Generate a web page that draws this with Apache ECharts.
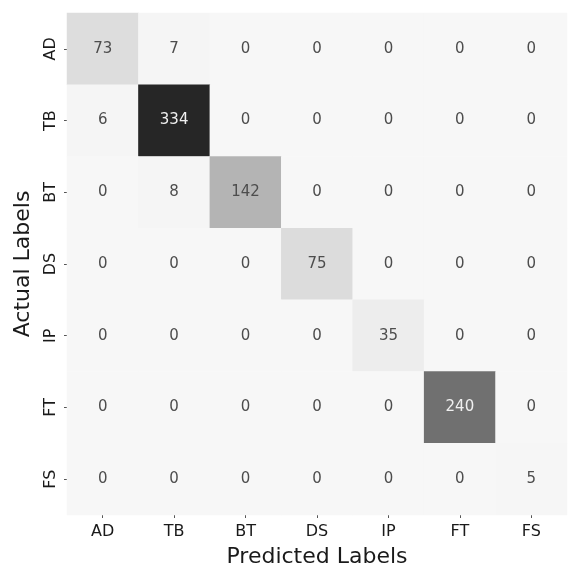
<!DOCTYPE html>
<html>
<head>
<meta charset="utf-8">
<script src="https://cdn.jsdelivr.net/npm/echarts@6/dist/echarts.min.js"></script>
<style>
  html, body { margin: 0; padding: 0; background: #ffffff; }
  #chart { width: 572px; height: 565px; }
</style>
</head>
<body>
<div id="chart"></div>
<script>
// Class names shared by both axes
const classes = ['AD', 'TB', 'BT', 'DS', 'IP', 'FT', 'FS'];

// Confusion matrix rows: actual class; columns: predicted class
const rowAD = [73, 7, 0, 0, 0, 0, 0];
const rowTB = [6, 334, 0, 0, 0, 0, 0];
const rowBT = [0, 8, 142, 0, 0, 0, 0];
const rowDS = [0, 0, 0, 75, 0, 0, 0];
const rowIP = [0, 0, 0, 0, 35, 0, 0];
const rowFT = [0, 0, 0, 0, 0, 240, 0];
const rowFS = [0, 0, 0, 0, 0, 0, 5];

const matrix = [rowAD, rowTB, rowBT, rowDS, rowIP, rowFT, rowFS];

// Greys ramp (light to dark)
const greys = ['#f7f7f7', '#ebebeb', '#d8d8d8', '#c1c1c1', '#a1a1a1',
               '#848484', '#696969', '#444444', '#262626'];

let maxVal = 0;
matrix.forEach(row => row.forEach(v => { maxVal = Math.max(maxVal, v); }));

// Heatmap cells [col, row, value]; light text on dark cells
const cells = [];
matrix.forEach((row, r) => {
  row.forEach((v, c) => {
    const dark = v / maxVal > 0.55;
    cells.push({
      value: [c, r, v],
      label: { color: dark ? '#f0f0f0' : '#4d4d4d' }
    });
  });
});

const chart = echarts.init(document.getElementById('chart'));
chart.setOption({
  animation: false,
  backgroundColor: '#ffffff',
  grid: { left: 67, right: 5, top: 13, bottom: 50, outerBoundsMode: 'none', containLabel: false },
  xAxis: {
    type: 'category',
    data: classes,
    name: 'Predicted Labels',
    nameLocation: 'middle',
    nameGap: 31,
    nameTextStyle: { fontFamily: 'DejaVu Sans', fontSize: 22, color: '#1a1a1a' },
    axisLine: { show: false },
    axisTick: { show: true, alignWithLabel: true, length: 3, lineStyle: { color: '#555' } },
    axisLabel: { fontFamily: 'DejaVu Sans', fontSize: 16, color: '#1a1a1a', margin: 9 },
    splitLine: { show: false }
  },
  yAxis: {
    type: 'category',
    data: classes,
    inverse: true,
    name: 'Actual Labels',
    nameLocation: 'middle',
    nameGap: 33,
    nameRotate: 90,
    nameTextStyle: { fontFamily: 'DejaVu Sans', fontSize: 22, color: '#1a1a1a' },
    axisLine: { show: false },
    axisTick: { show: true, alignWithLabel: true, length: 3, lineStyle: { color: '#555' } },
    axisLabel: { fontFamily: 'DejaVu Sans', fontSize: 16, color: '#1a1a1a', rotate: 90, margin: 8 },
    splitLine: { show: false }
  },
  visualMap: {
    show: false,
    type: 'continuous',
    min: 0,
    max: maxVal,
    dimension: 2,
    inRange: { color: greys }
  },
  series: [{
    type: 'heatmap',
    data: cells,
    label: {
      show: true,
      fontFamily: 'DejaVu Sans',
      fontSize: 15,
      formatter: p => String(p.value[2])
    },
    itemStyle: { borderWidth: 0 },
    emphasis: { disabled: true }
  }]
});
</script>
</body>
</html>
